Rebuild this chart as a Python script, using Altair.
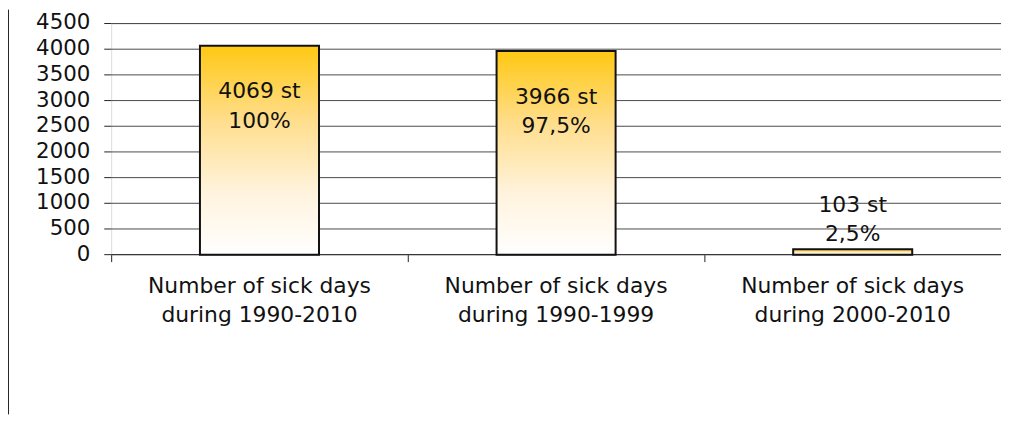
import altair as alt
import pandas as pd

categories = [
    "Number of sick days|during 1990-2010",
    "Number of sick days|during 1990-1999",
    "Number of sick days|during 2000-2010",
]
values = [4069, 3966, 103]
labels = ["4069 st\n100%", "3966 st\n97,5%", "103 st\n2,5%"]
y_ticks = [0, 500, 1000, 1500, 2000, 2500, 3000, 3500, 4000, 4500]

df = pd.DataFrame({"cat": categories, "value": values, "label": labels})
ticks_df = pd.DataFrame({"tick": y_ticks, "tick_label": [str(t) for t in y_ticks]})

FONT = "DejaVu Sans"
W = 897
H = 233

x = alt.X(
    "cat:N",
    sort=categories,
    title=None,
    scale=alt.Scale(paddingInner=0, paddingOuter={"expr": "-0.015"}, align=0),
    axis=alt.Axis(
        labelAngle=0,
        labelExpr="split(datum.label, '|')",
        labelLineHeight=29,
        labelFontSize=22,
        labelFont=FONT,
        labelColor="#111111",
        labelPadding=14.6,
        labelLimit=0,
        tickSize=7,
        tickColor="#222222",
        bandPosition=0,
        domain=False,
        grid=False,
    ),
)

yscale = alt.Scale(domain=[0, 4500], nice=False, zero=True)

y = alt.Y(
    "value:Q",
    title=None,
    scale=yscale,
    axis=alt.Axis(
        labels=False,
        ticks=False,
        grid=False,
        domain=True,
        domainColor="#111111",
    ),
)

gradient = alt.Gradient(
    gradient="linear",
    stops=[
        alt.GradientStop(color="#FFC812", offset=0),
        alt.GradientStop(color="#FFDD8A", offset=0.35),
        alt.GradientStop(color="#FFF3DD", offset=0.7),
        alt.GradientStop(color="#FFFFFF", offset=1),
    ],
    x1=0, x2=0, y1=0, y2=1,
)

tick_base = alt.Chart(ticks_df).encode(
    y=alt.Y("tick:Q", scale=yscale, axis=None)
)

grid = tick_base.transform_filter("datum.tick > 0").mark_rule(
    color="#4a4a4a", strokeWidth=1
).encode(x=alt.value(0), x2=alt.value(W))
baseline = tick_base.transform_filter("datum.tick == 0").mark_rule(
    color="#111111", strokeWidth=1
).encode(x=alt.value(0), x2=alt.value(W))
tick_marks = tick_base.mark_rule(color="#222222", strokeWidth=1).encode(
    x=alt.value(-7), x2=alt.value(0)
)
tick_labels = tick_base.mark_text(
    font=FONT, fontSize=21.5, color="#111111", align="right", baseline="middle"
).encode(x=alt.value(-21), text="tick_label:N")

base = alt.Chart(df).encode(x=x, y=y)

bars = base.mark_bar(size=120, fill=gradient, stroke="#111111", strokeWidth=2)

big_text = base.transform_filter("datum.value > 1000").mark_text(
    font=FONT, fontSize=22, color="#111111", baseline="alphabetic",
    lineBreak="\n", lineHeight=30, dy=53, align="center"
).encode(text="label:N")

small_text = base.transform_filter("datum.value <= 1000").mark_text(
    font=FONT, fontSize=22, color="#111111", baseline="alphabetic",
    lineBreak="\n", lineHeight=30, dy=-38, align="center"
).encode(text="label:N")

frame = alt.Chart(pd.DataFrame({"a": [0]})).mark_rule(
    color="#222222", strokeWidth=1
).encode(x=alt.value(-103.5), y=alt.value(-14), y2=alt.value(394))

chart = alt.layer(
    grid, baseline, tick_marks, tick_labels, bars, big_text, small_text, frame
).properties(
    width=W,
    height=H,
    autosize=alt.AutoSizeParams(type="none"),
    padding={"left": 104, "top": 14, "right": 0, "bottom": 161},
).configure_view(strokeWidth=0).configure(background="white")

chart.save("out.html", embed_options={"renderer": "svg", "actions": False})
